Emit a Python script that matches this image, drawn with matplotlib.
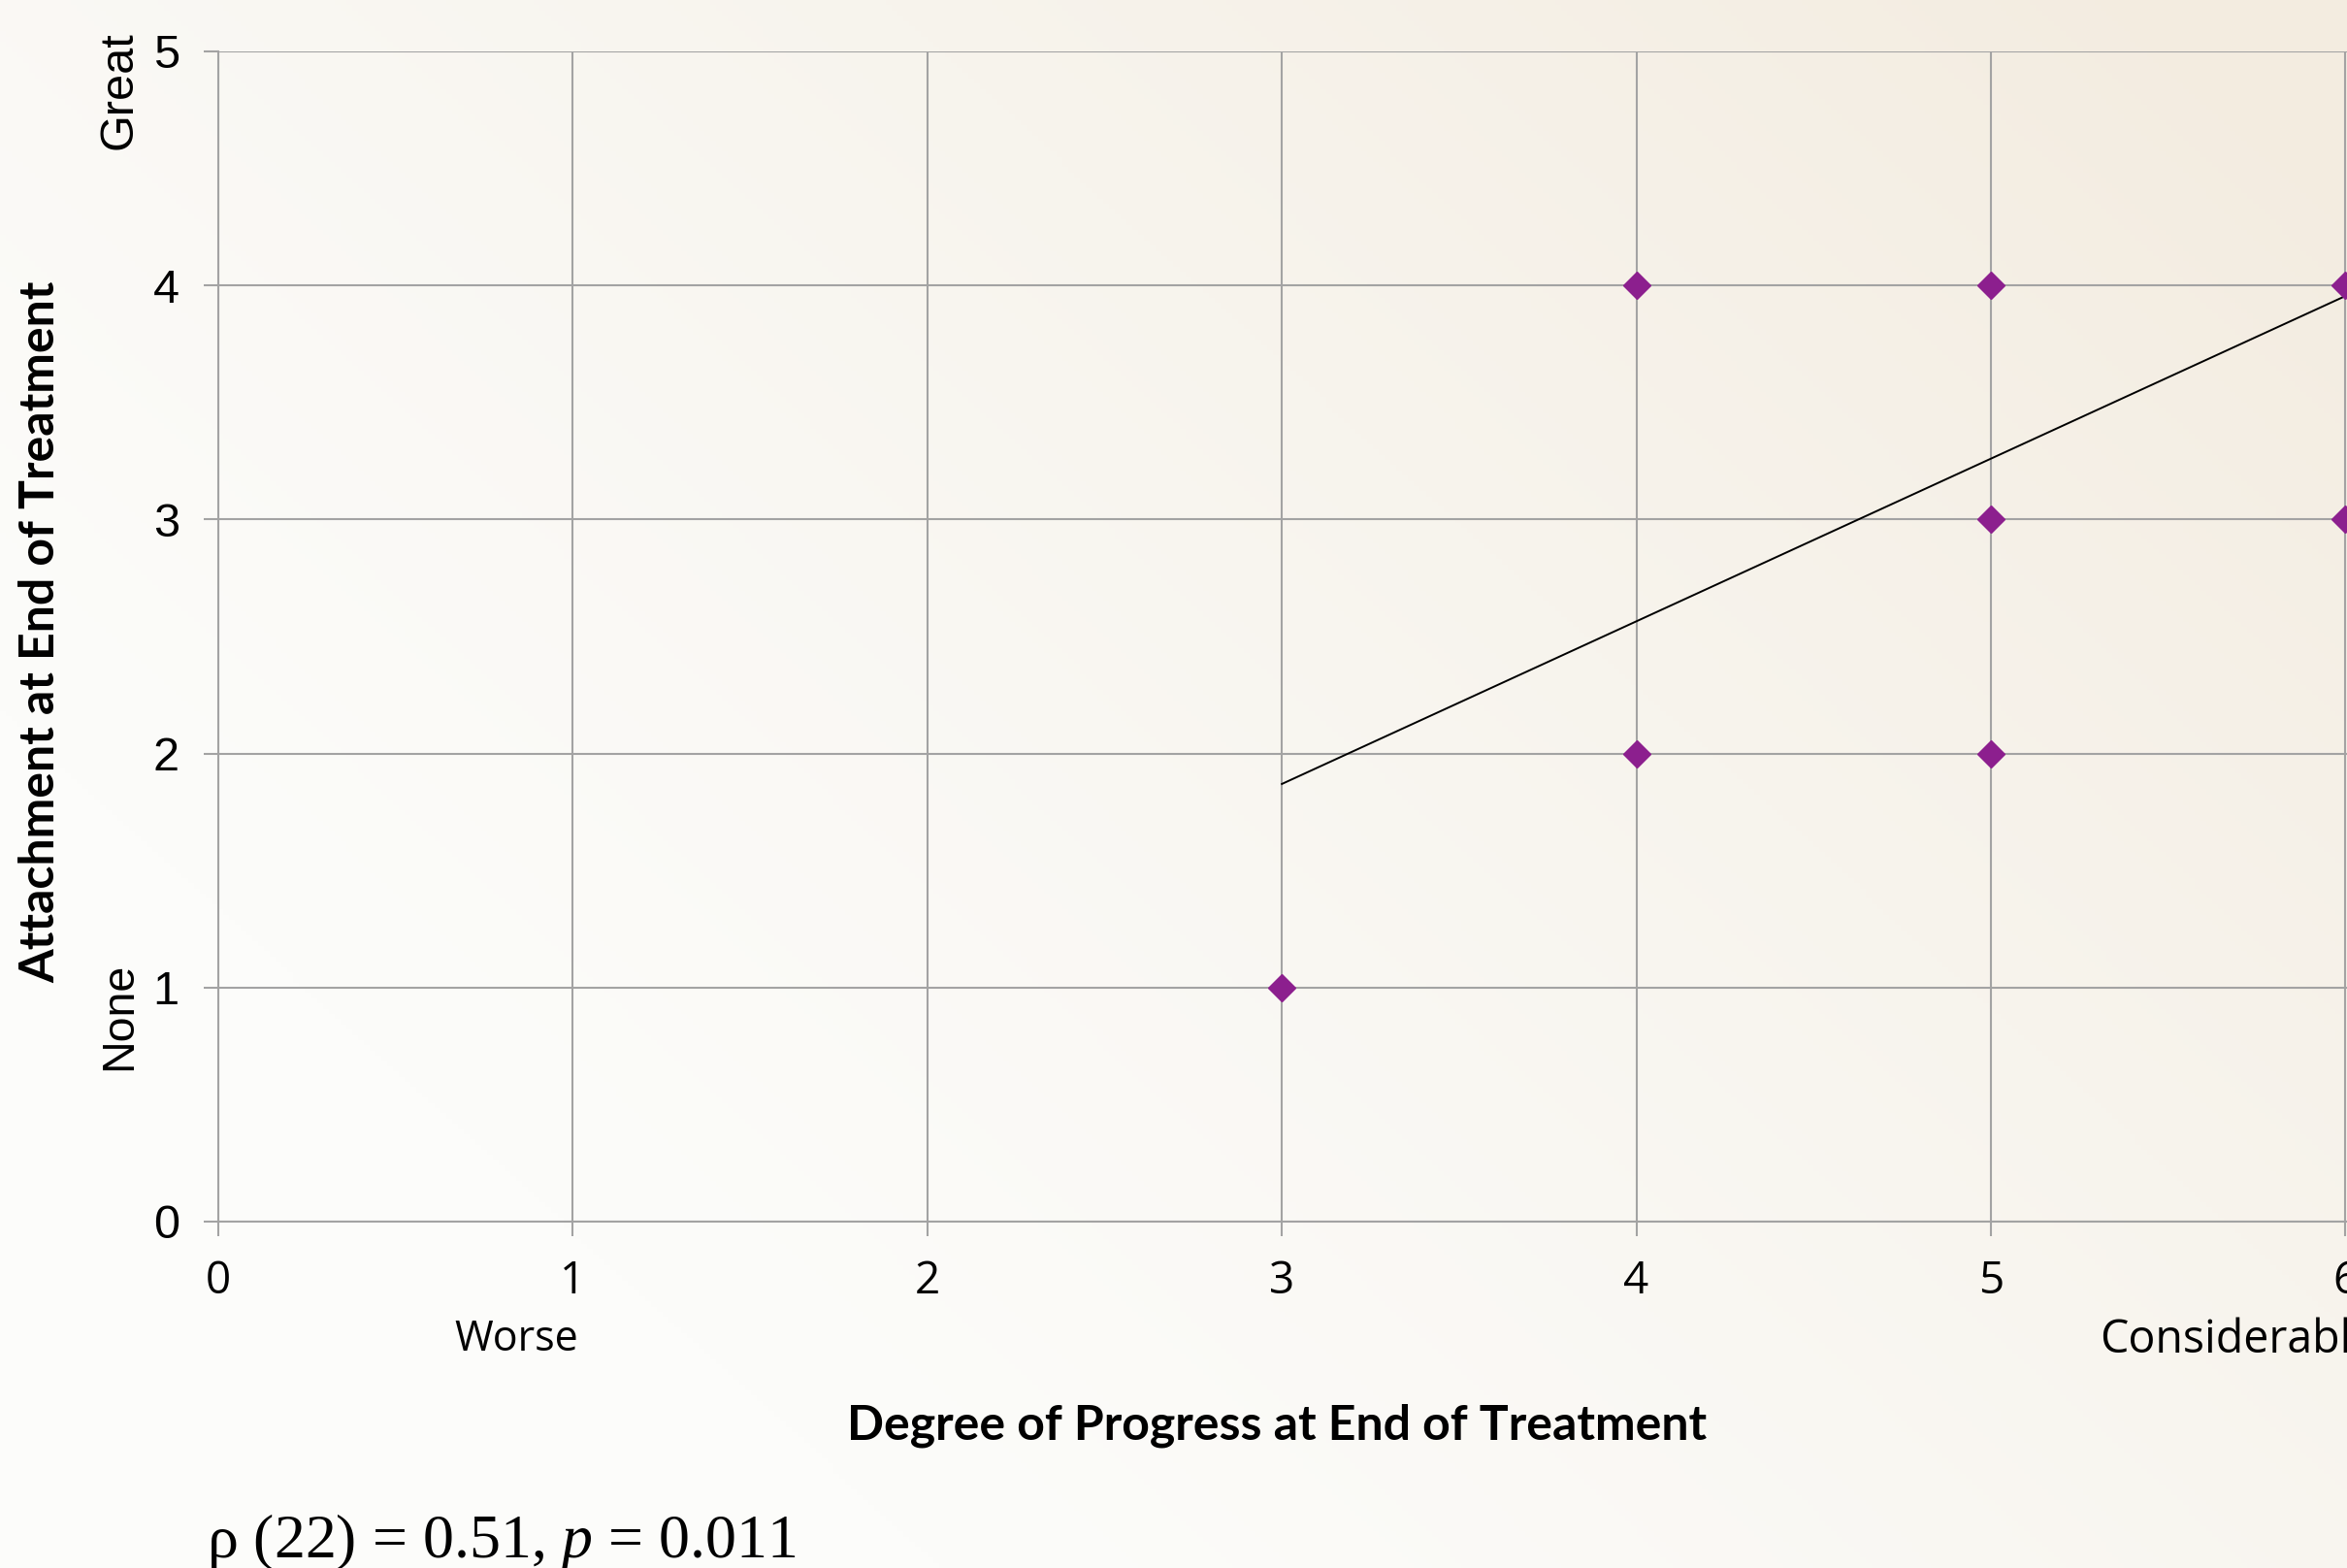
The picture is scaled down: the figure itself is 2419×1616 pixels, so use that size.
import numpy as np
import matplotlib
matplotlib.use('Agg')
import matplotlib.pyplot as plt

# data
progress = [3, 4, 4, 5, 5, 5, 6, 6]
attachment = [1, 4, 2, 4, 3, 2, 4, 3]
trend_x = [3, 7]
trend_y = [1.87, 4.65]
x_ticks = [0, 1, 2, 3, 4, 5, 6, 7]
y_ticks = [0, 1, 2, 3, 4, 5]

plt.rcParams['mathtext.fontset'] = 'custom'
plt.rcParams['mathtext.rm'] = 'Liberation Serif'
plt.rcParams['mathtext.it'] = 'Liberation Serif:italic'

W, H = 2419, 1616
fig = plt.figure(figsize=(W / 100, H / 100), dpi=100)

# soft beige background, stronger towards top right
bg = fig.add_axes([0, 0, 1, 1], zorder=-10)
gx, gy = np.meshgrid(np.linspace(0, 1, 400), np.linspace(1, 0, 300))
t = np.clip((gx * 0.75 + gy * 0.55 - 0.3) / 0.95, 0, 1) ** 1.2
white = np.array([252, 252, 250]) / 255
beige = np.array([243, 236, 224]) / 255
bg.imshow(white * (1 - t[..., None]) + beige * t[..., None], aspect='auto', extent=[0, 1, 0, 1])
bg.axis('off')

unit = 365.4
ax = fig.add_axes([225 / W, (H - 1259) / H, 7 * unit / W, (1259 - 53) / H])
ax.patch.set_alpha(0)
ax.set_xlim(0, 7)
ax.set_ylim(0, 5)
ax.set_xticks(x_ticks)
ax.set_yticks(y_ticks)
ax.grid(color='#a3a3a3', lw=1.5)
ax.set_axisbelow(True)
for s in ['top', 'right']:
    ax.spines[s].set_visible(False)
for s in ['left', 'bottom']:
    ax.spines[s].set_color('#a3a3a3')
    ax.spines[s].set_linewidth(1.5)
ax.tick_params(axis='both', direction='out', length=11, width=1.5, color='#a3a3a3')
ax.tick_params(axis='x', pad=17, labelsize=33)
ax.tick_params(axis='y', pad=18, labelsize=35)
for lab in ax.get_xticklabels():
    lab.set_fontfamily('Open Sans')
for lab in ax.get_yticklabels():
    lab.set_fontfamily('Liberation Sans')

ax.plot(trend_x, trend_y, color='black', lw=1.4, zorder=3)
ax.plot(progress, attachment, ls='none', marker='D', ms=14, color='#8c1f8e', zorder=4, clip_on=False)

# axis titles and anchor labels
fig.text(1316 / W, 1 - 1469 / H, 'Degree of Progress at End of Treatment', ha='center', va='center',
         fontsize=36, fontweight='bold', family='Lato')
fig.text(42 / W, 1 - 651 / H, 'Attachment at End of Treatment', ha='center', va='center',
         rotation=90, fontsize=36, fontweight='bold', family='Lato')
fig.text(532 / W, 1 - 1381 / H, 'Worse', ha='center', va='center', fontsize=31, family='Open Sans')
fig.text(2164 / W, 1 - 1381 / H, 'Considerable', ha='left', va='center', fontsize=33.5, family='Open Sans')
fig.text(123 / W, 1 - 93 / H, 'Great', ha='center', va='center', rotation=90, fontsize=35,
         family='Liberation Sans')
fig.text(123 / W, 1 - 1047 / H, 'None', ha='center', va='center', rotation=90, fontsize=33.5,
         family='Liberation Sans')

fig.text(213 / W, 1 - 1605 / H, r'ρ (22) = 0.51, $p$ = 0.011', ha='left', va='baseline',
         fontsize=46, family='Liberation Serif')

fig.savefig('out.png', dpi=100)
